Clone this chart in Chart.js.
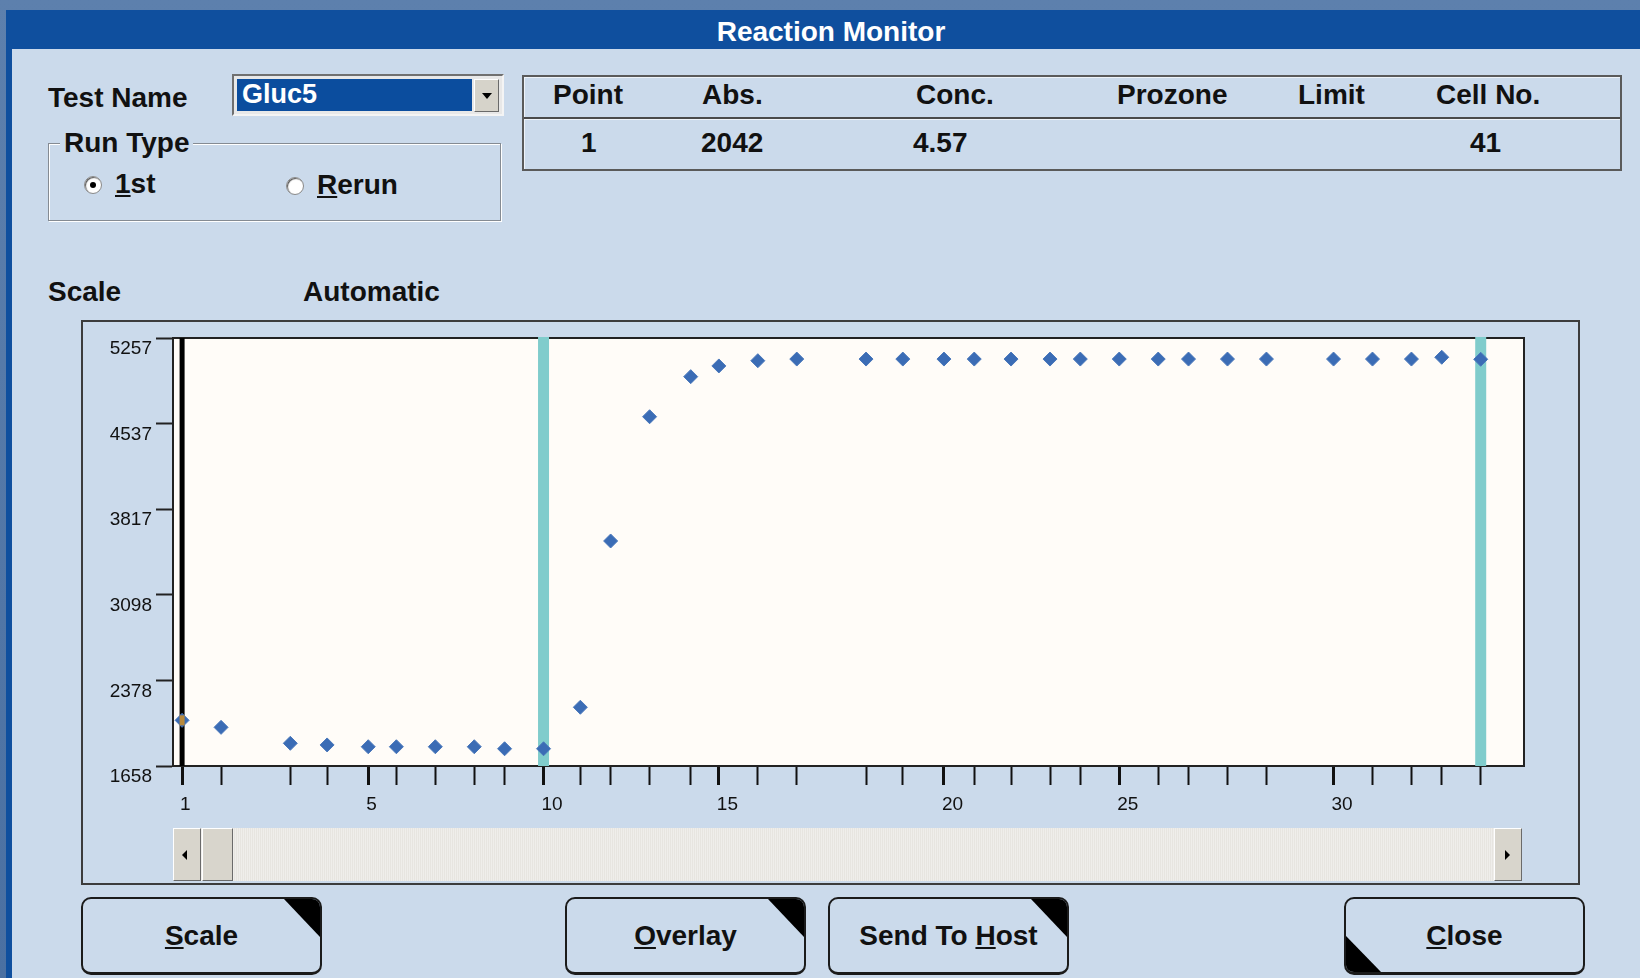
<!DOCTYPE html>
<html>
<head>
<meta charset="utf-8">
<script src="https://cdn.jsdelivr.net/npm/chart.js@4"></script>
<style>
  html, body { margin: 0; padding: 0; width: 1640px; height: 978px; overflow: hidden; }
  body { background: linear-gradient(180deg, #5d80ad, #4a70a2); font-family: "Liberation Sans", Arial, sans-serif; position: relative; }
  .abs { position: absolute; }
  .t { position: absolute; height: 40px; line-height: 40px; white-space: nowrap; font-size: 28px; font-weight: bold; color: #111; }
  #frame { left: 6px; top: 10px; right: 0; bottom: 0; background: #0f4f9e; }
  #win { left: 12px; top: 49px; right: 0; bottom: 0; background: #cbdaeb; }
  #title { left: 0; width: 1662px; top: 12px; text-align: center; color: #fff; }
  .combo { left: 232px; top: 74px; width: 268px; height: 38px; border: 2px solid; border-color: #707070 #f4f4f4 #f4f4f4 #707070; background: #e8e8e8; }
  .combo .sel { position: absolute; left: 3px; top: 3px; width: 235px; height: 32px; background: #0b4d9e; }
  .combo .btn { position: absolute; left: 240px; top: 3px; width: 23px; height: 31px; background: #d6d3ca; border: 1px solid; border-color: #fff #6a6a6a #6a6a6a #fff; }
  .combo .arr { position: absolute; left: 7px; top: 13px; width: 0; height: 0; border-left: 5px solid transparent; border-right: 5px solid transparent; border-top: 6px solid #000; }
  .group { left: 48px; top: 143px; width: 451px; height: 76px; border: 1px solid #858b93; box-shadow: inset 1px 1px 0 #fff, 1px 1px 0 #fff; }
  .radio { width: 16px; height: 16px; border-radius: 50%; background: #fff; border: 1px solid #8a8a8a; box-shadow: inset 1px 1px 1px #555; }
  .dot { left: 5px; top: 5px; width: 6px; height: 6px; border-radius: 50%; background: #000; }
  .table { left: 522px; top: 75px; width: 1096px; height: 92px; border: 2px solid #5a5a5a; box-shadow: inset 1px 1px 0 #eef3f9; }
  .sep { left: 0; right: 0; top: 40px; height: 2px; background: #4a4a4a; border-bottom: 1px solid #eef3f9; }
  .plotbox { left: 81px; top: 320px; width: 1495px; height: 561px; border: 2px solid #3c3c3c; }
  .scroll { left: 173px; top: 828px; width: 1349px; height: 53px; background-color: #e7e5e0; background-image: repeating-linear-gradient(90deg, rgba(255,255,255,0.35) 0 1px, transparent 1px 2px); }
  .sbtn { top: 0; height: 51px; background: #d8d5cc; border: 1px solid; border-color: #fff #6a6a6a #6a6a6a #fff; }
  .la { left: 8px; top: 21px; border-top: 5px solid transparent; border-bottom: 5px solid transparent; border-right: 5px solid #000; }
  .ra { left: 10px; top: 21px; border-top: 5px solid transparent; border-bottom: 5px solid transparent; border-left: 5px solid #000; }
  .button { top: 897px; width: 237px; height: 73px; border: 2px solid #1b1b1b; border-bottom-width: 3px; border-radius: 10px; background: #cbdaeb; overflow: hidden; }
  .button .t { left: 0; right: 0; top: 17px; text-align: center; }
  .tri-tr { right: 0; top: 0; width: 36px; height: 38px; background: #000; clip-path: polygon(0 0, 100% 0, 100% 100%); }
  .tri-bl { left: 0; bottom: 0; width: 35px; height: 36px; background: #000; clip-path: polygon(0 0, 100% 100%, 0 100%); }
  #chartWrap { left: 82px; top: 322px; width: 1496px; height: 502px; }
</style>
</head>
<body>
<div id="frame" class="abs"></div>
<div id="win" class="abs"></div>
<div id="title" class="t">Reaction Monitor</div>

<div class="t" style="left:48px; top:78px;">Test Name</div>
<div class="combo abs">
  <div class="sel"><div class="t" style="left:5px; top:-5px; color:#fff; font-size:27px;">Gluc5</div></div>
  <div class="btn"><div class="arr"></div></div>
</div>

<div class="group abs"></div>
<div class="t" style="left:60px; top:123px; padding:0 4px; background:#cbdaeb;">Run Type</div>
<div class="radio abs" style="left:84px; top:176px;"><div class="dot abs"></div></div>
<div class="t" style="left:115px; top:164px;"><u>1</u>st</div>
<div class="radio abs" style="left:286px; top:177px;"></div>
<div class="t" style="left:317px; top:165px;"><u>R</u>erun</div>

<div class="table abs"><div class="sep abs"></div></div>
<div class="t" style="left:553px; top:75px;">Point</div>
<div class="t" style="left:702px; top:75px;">Abs.</div>
<div class="t" style="left:916px; top:75px;">Conc.</div>
<div class="t" style="left:1117px; top:75px;">Prozone</div>
<div class="t" style="left:1298px; top:75px;">Limit</div>
<div class="t" style="left:1436px; top:75px;">Cell No.</div>
<div class="t" style="left:581px; top:123px;">1</div>
<div class="t" style="left:701px; top:123px;">2042</div>
<div class="t" style="left:913px; top:123px;">4.57</div>
<div class="t" style="left:1470px; top:123px;">41</div>

<div class="t" style="left:48px; top:272px;">Scale</div>
<div class="t" style="left:303px; top:272px;">Automatic</div>

<div class="plotbox abs"></div>
<div id="chartWrap" class="abs"><canvas id="reacao" width="1496" height="502"></canvas></div>

<div class="scroll abs">
  <div class="sbtn abs" style="left:0; width:26px;"><div class="la abs"></div></div>
  <div class="sbtn abs" style="left:29px; width:29px;"></div>
  <div class="sbtn abs" style="left:1321px; width:26px;"><div class="ra abs"></div></div>
</div>

<div class="button abs" style="left:81px;"><div class="t"><u>S</u>cale</div><div class="tri-tr abs"></div></div>
<div class="button abs" style="left:565px;"><div class="t"><u>O</u>verlay</div><div class="tri-tr abs"></div></div>
<div class="button abs" style="left:828px;"><div class="t">Send To <u>H</u>ost</div><div class="tri-tr abs"></div></div>
<div class="button abs" style="left:1344px;"><div class="t"><u>C</u>lose</div><div class="tri-bl abs"></div></div>

<script>
const readTimes = [0, 18, 50, 67, 86, 99, 117, 135, 149, 167,
  184, 198, 216, 235, 248, 266, 284, 316, 333, 352,
  366, 383, 401, 415, 433, 451, 465, 483, 501, 532,
  550, 568, 582, 600];
// absorbancia de cada ponto
const absValues = [2042, 1983, 1849, 1835, 1820, 1820, 1820, 1820, 1803, 1803,
  2152, 3550, 4595, 4932, 5022, 5066, 5080, 5080, 5080, 5080,
  5080, 5080, 5080, 5080, 5080, 5080, 5080, 5080, 5080, 5080,
  5080, 5080, 5095, 5078];
const yTicks = [1658, 2378, 3098, 3817, 4537, 5257];
const labelledPoints = [1, 5, 10, 15, 20, 25, 30];
const cursorPoint = 1;
const rangePoints = [10, 34];

Chart.defaults.font.family = '"Liberation Sans", Arial, sans-serif';

const marcas = {
  id: 'marcas',
  beforeDraw(chart) {
    const { ctx, chartArea: a } = chart;
    ctx.save();
    ctx.fillStyle = '#fffcf8';
    ctx.fillRect(a.left, a.top, a.right - a.left, a.bottom - a.top);
    ctx.restore();
  },
  beforeDatasetsDraw(chart) {
    const { ctx, chartArea: a } = chart;
    const sx = chart.scales.x;
    ctx.save();
    ctx.strokeStyle = '#222';
    ctx.lineWidth = 2;
    ctx.beginPath();
    ctx.moveTo(a.left, a.top);
    ctx.lineTo(a.right, a.top);
    ctx.lineTo(a.right, a.bottom);
    ctx.stroke();
    const cx = sx.getPixelForValue(readTimes[cursorPoint - 1]);
    ctx.fillStyle = '#000';
    ctx.fillRect(cx - 2.5, a.top, 5, a.bottom - a.top);
    ctx.fillStyle = '#80cccc';
    rangePoints.forEach(p => {
      const px = sx.getPixelForValue(readTimes[p - 1]);
      ctx.fillRect(px - 5.5, a.top - 1, 11, a.bottom - a.top + 1);
    });
    ctx.restore();
  },
  afterDatasetsDraw(chart) {
    const el = chart.getDatasetMeta(0).data[cursorPoint - 1];
    const ctx = chart.ctx;
    ctx.save();
    ctx.fillStyle = '#b8893c';
    ctx.fillRect(el.x - 2.5, el.y - 5, 5, 10);
    ctx.restore();
  }
};

new Chart(document.getElementById('reacao'), {
  type: 'scatter',
  data: {
    datasets: [{
      data: readTimes.map((t, i) => ({ x: t, y: absValues[i] })),
      pointStyle: 'rectRot',
      pointRadius: 7,
      pointHoverRadius: 7,
      backgroundColor: '#3b6cb5',
      borderColor: '#4a78bb',
      borderWidth: 1,
      showLine: false
    }]
  },
  options: {
    responsive: false,
    animation: false,
    devicePixelRatio: 1,
    layout: { padding: { top: 16, right: 54, left: 0, bottom: 0 } },
    plugins: { legend: { display: false }, tooltip: { enabled: false } },
    scales: {
      x: {
        type: 'linear',
        min: -4.2,
        max: 620,
        afterBuildTicks: s => { s.ticks = readTimes.map(v => ({ value: v })); },
        afterFit: s => { s.height = 58; },
        border: { display: true, color: '#222', width: 2 },
        grid: {
          drawOnChartArea: false,
          tickLength: 19,
          tickColor: '#111',
          tickWidth: c => labelledPoints.includes(c.index + 1) ? 3 : 2
        },
        ticks: {
          autoSkip: false,
          maxRotation: 0,
          minRotation: 0,
          align: 'start',
          labelOffset: -2,
          padding: 8,
          color: '#111',
          font: { size: 19 },
          callback: (v, i) => labelledPoints.includes(i + 1) ? String(i + 1) : ''
        }
      },
      y: {
        min: 1658,
        max: 5257,
        afterBuildTicks: s => { s.ticks = yTicks.map(v => ({ value: v })); },
        afterFit: s => { s.width = 91; },
        border: { display: true, color: '#222', width: 2 },
        grid: { drawOnChartArea: false, tickLength: 17, tickColor: '#222', tickWidth: 2 },
        ticks: {
          padding: 4,
          labelOffset: 11,
          color: '#111',
          font: { size: 19 },
          callback: v => String(v)
        }
      }
    }
  },
  plugins: [marcas]
});
</script>
</body>
</html>
